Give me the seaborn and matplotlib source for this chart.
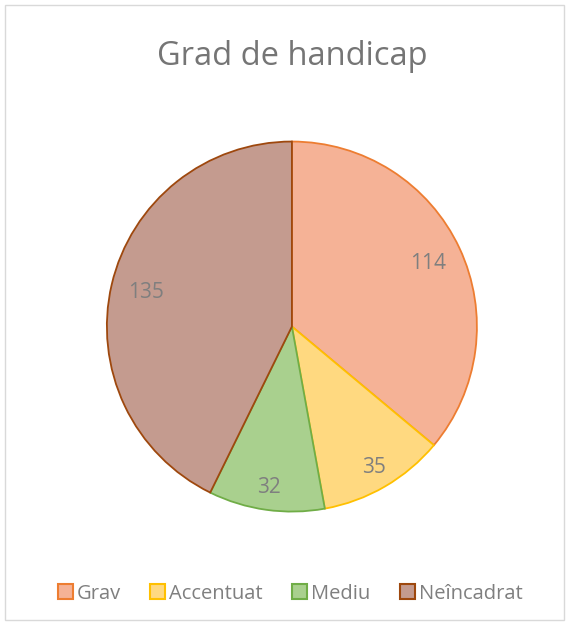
import numpy as np
import seaborn as sns
import matplotlib.pyplot as plt
from matplotlib.patches import Rectangle

# data
categories = ["Grav", "Accentuat", "Mediu", "Neîncadrat"]
values = [114, 35, 32, 135]
fill_colors = ["#F5B296", "#FFD980", "#A9D08E", "#C49B8F"]
edge_colors = ["#ED7D31", "#FFC000", "#70AD47", "#9E480E"]

sns.set_style("white")
plt.rcParams["font.family"] = ["Open Sans", "DejaVu Sans"]

fig = plt.figure(figsize=(5.69, 6.25), dpi=100)
fig.patches.append(Rectangle((0.008, 0.008), 0.984, 0.984, transform=fig.transFigure,
                             fill=False, edgecolor="#D9D9D9", linewidth=1))

ax = fig.add_axes([0.186, 0.18, 0.654, 0.595])
wedges, texts, autotexts = ax.pie(
    values,
    colors=fill_colors,
    startangle=90,
    counterclock=False,
    autopct=lambda p: "{:d}".format(int(round(p * sum(values) / 100))),
    pctdistance=0.81,
    wedgeprops={"linewidth": 1.3},
    textprops={"color": "#7F7F7F", "fontsize": 15},
)
for w, ec in zip(wedges, edge_colors):
    w.set_edgecolor(ec)
# small slices: labels sit a bit further out (best fit)
for t, v in zip(autotexts, values):
    if v < 50:
        x, y = t.get_position()
        t.set_position((x * 0.88 / 0.81, y * 0.88 / 0.81))
ax.set_xlim(-1.005, 1.005)
ax.set_ylim(-1.005, 1.005)
ax.set_aspect("equal")

fig.text(0.513, 0.909, "Grad de handicap", ha="center", va="center",
         fontsize=23.5, color="#757575")

handles = [Rectangle((0, 0), 1, 1, facecolor=f, edgecolor=e, linewidth=1.5)
           for f, e in zip(fill_colors, edge_colors)]
fig.legend(handles, categories, loc="center", bbox_to_anchor=(0.51, 0.05), ncol=4,
           frameon=False, fontsize=14.5, labelcolor="#7F7F7F",
           handlelength=0.75, handleheight=0.75, handletextpad=0.2, columnspacing=1.45)

plt.savefig("out.png", dpi=100)
